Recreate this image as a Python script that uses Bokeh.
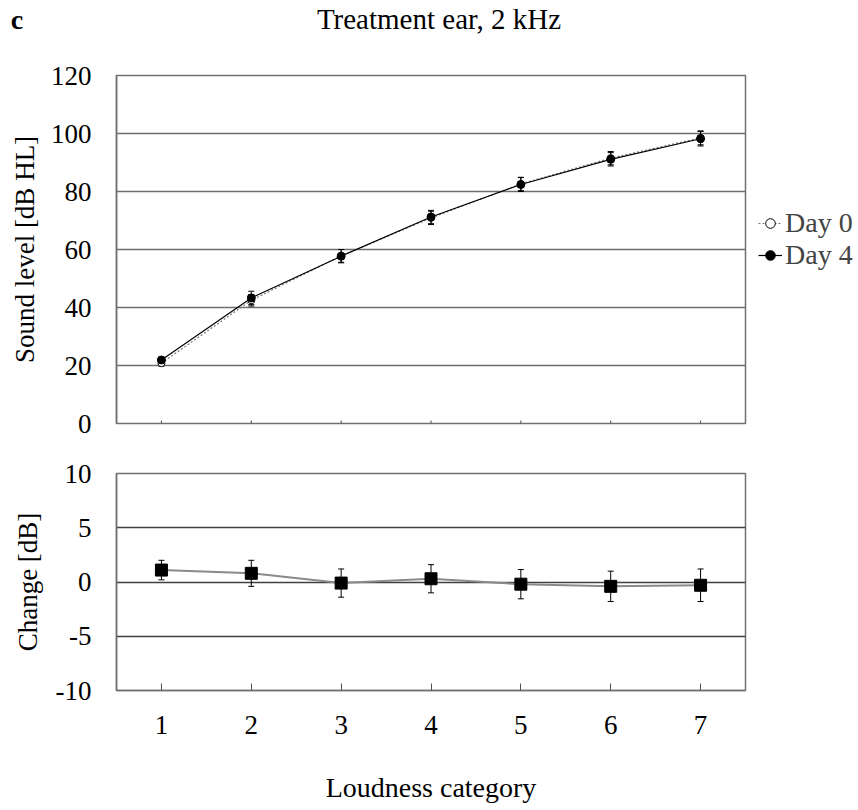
import math
from bokeh.plotting import figure
from bokeh.layouts import column
from bokeh.models import (Range1d, FixedTicker, ColumnDataSource, Whisker, TeeHead,
                          Legend, LegendItem, Div, Title)
from bokeh.embed import file_html
from bokeh.resources import INLINE

# ---- data ----
categories = [1, 2, 3, 4, 5, 6, 7]
day0_level = [20.8, 42.5, 57.8, 70.9, 82.6, 91.5, 98.5]
day0_err = [1.0, 2.0, 2.2, 2.3, 2.3, 2.3, 2.4]
day4_level = [21.9, 43.3, 57.7, 71.2, 82.4, 91.1, 98.2]
day4_err = [1.0, 2.3, 2.3, 2.3, 2.4, 2.3, 2.5]
change = [1.1, 0.8, -0.1, 0.3, -0.2, -0.4, -0.3]
change_err = [0.9, 1.2, 1.3, 1.3, 1.35, 1.4, 1.5]
level_ticks = [0, 20, 40, 60, 80, 100, 120]
change_ticks = [-10, -5, 0, 5, 10]
change_tick_labels = {-10: "-10", -5: "-5", 0: "0", 5: "5", 10: "10"}
title_text = "Treatment ear, 2 kHz"
panel_letter = "c"
top_ylabel = "Sound level [dB HL]"
bot_ylabel = "Change [dB]"
xlabel = "Loudness category"

FONT = "Liberation Serif"
GRID = "#6e6e6e"
FRAME = "#707070"
BL, BR = 115, 112          # left / right borders
FW = 629                   # frame width
W = BL + FW + BR
HEAD_H = 61

def style_common(p):
    p.outline_line_color = FRAME
    p.outline_line_width = 1.5
    p.xgrid.grid_line_color = None
    p.ygrid.grid_line_color = GRID
    p.ygrid.grid_line_width = 1.3
    for ax in list(p.xaxis) + list(p.yaxis):
        ax.axis_line_color = FRAME
        ax.axis_line_width = 1.5
        ax.major_tick_line_color = "#505050"
        ax.minor_tick_line_color = None
        ax.major_label_text_font = FONT
        ax.major_label_text_font_size = "27px"
        ax.major_label_text_color = "black"
        ax.axis_label_text_font = FONT
        ax.axis_label_text_font_size = "28px"
        ax.axis_label_text_font_style = "normal"
        ax.axis_label_text_color = "black"
    p.yaxis[0].major_tick_line_color = None
    p.yaxis[0].major_tick_in = 0
    p.yaxis[0].major_tick_out = 0
    p.yaxis[0].major_label_standoff = 25

def side_title(text, offset, standoff):
    return Title(text=text, align="center", offset=offset, standoff=standoff,
                 text_font=FONT, text_font_size="27px", text_font_style="normal",
                 text_color="black")

# ---- header (panel letter + title) ----
head_html = (
    f'<div style="position:relative;width:{W}px;height:{HEAD_H}px;'
    f'font-family:\'{FONT}\';color:black;">'
    f'<span style="position:absolute;left:17px;top:3px;transform:translateX(-50%);'
    f'font-size:28px;font-weight:bold;line-height:34px;">{panel_letter}</span>'
    f'<span style="position:absolute;left:439px;top:2px;transform:translateX(-50%);'
    f'font-size:29px;line-height:34px;white-space:nowrap;">{title_text}</span>'
    '</div>'
)
head = Div(text=head_html, width=W, height=HEAD_H, margin=0)

# ---- top panel ----
top = figure(output_backend="svg", toolbar_location=None,
             frame_width=FW, frame_height=348,
             min_border_left=BL, min_border_right=BR,
             min_border_top=14, min_border_bottom=25,
             x_range=Range1d(0.5, 7.5), y_range=Range1d(0, 120),
             x_axis_location=None)
style_common(top)
top.yaxis[0].ticker = FixedTicker(ticks=level_ticks)
top.ygrid.ticker = FixedTicker(ticks=level_ticks[1:-1])
top.add_layout(side_title(top_ylabel, 54, 15), "left")

# small category ticks on the bottom edge of the upper panel
top.scatter(x=categories, y=[level_ticks[0]] * len(categories), marker="dash",
            angle=math.pi / 2, size=6, line_color="#505050", line_width=1)

src0 = ColumnDataSource(dict(x=categories, y=day0_level,
                             lo=[v - e for v, e in zip(day0_level, day0_err)],
                             hi=[v + e for v, e in zip(day0_level, day0_err)]))
src4 = ColumnDataSource(dict(x=categories, y=day4_level,
                             lo=[v - e for v, e in zip(day4_level, day4_err)],
                             hi=[v + e for v, e in zip(day4_level, day4_err)]))

for s in (src0, src4):
    top.add_layout(Whisker(source=s, base="x", upper="hi", lower="lo",
                           line_color="black", line_width=1,
                           upper_head=TeeHead(size=6, line_color="black", line_width=1),
                           lower_head=TeeHead(size=6, line_color="black", line_width=1)))

l0 = top.line("x", "y", source=src0, line_color="#777777", line_width=1.2, line_dash="2 2")
m0 = top.scatter("x", "y", source=src0, marker="circle", size=7,
                 fill_color="white", line_color="black", line_width=1)
l4 = top.line("x", "y", source=src4, line_color="black", line_width=1.2)
m4 = top.scatter("x", "y", source=src4, marker="circle", size=8,
                 fill_color="black", line_color="black")

legend = Legend(items=[LegendItem(label="Day 0", renderers=[l0, m0]),
                       LegendItem(label="Day 4", renderers=[l4, m4])],
                location=(13, 152), orientation="vertical",
                label_text_font=FONT, label_text_font_size="28px",
                label_text_line_height=1.0,
                label_height=28, glyph_height=28, glyph_width=24,
                label_standoff=3, spacing=0, padding=0, margin=0,
                border_line_color=None, background_fill_alpha=0)
top.add_layout(legend, "right")

# ---- bottom panel ----
bot = figure(output_backend="svg", toolbar_location=None,
             frame_width=FW, frame_height=217,
             min_border_left=BL, min_border_right=BR,
             min_border_top=25, min_border_bottom=110,
             x_range=Range1d(0.5, 7.5), y_range=Range1d(-10, 10))
style_common(bot)
bot.xaxis[0].ticker = FixedTicker(ticks=categories)
bot.yaxis[0].ticker = FixedTicker(ticks=change_ticks)
bot.yaxis[0].major_label_overrides = change_tick_labels
bot.ygrid.ticker = FixedTicker(ticks=change_ticks[1:-1])
bot.ygrid.grid_line_color = "#404040"
bot.add_layout(side_title(bot_ylabel, 16, 20), "left")
bot.xaxis[0].axis_label = xlabel
bot.xaxis[0].major_tick_in = 7
bot.xaxis[0].major_tick_out = 0
bot.xaxis[0].major_label_standoff = 25
bot.xaxis[0].axis_label_standoff = 35

srcc = ColumnDataSource(dict(x=categories, y=change,
                             lo=[v - e for v, e in zip(change, change_err)],
                             hi=[v + e for v, e in zip(change, change_err)]))
bot.add_layout(Whisker(source=srcc, base="x", upper="hi", lower="lo",
                       line_color="black", line_width=1,
                       upper_head=TeeHead(size=6, line_color="black", line_width=1),
                       lower_head=TeeHead(size=6, line_color="black", line_width=1)))
bot.line("x", "y", source=srcc, line_color="#8a8a8a", line_width=2)
bot.scatter("x", "y", source=srcc, marker="square", size=12,
            fill_color="black", line_color="black")

layout = column(head, top, bot, spacing=0)
open("out.html", "w").write(file_html(layout, INLINE))
